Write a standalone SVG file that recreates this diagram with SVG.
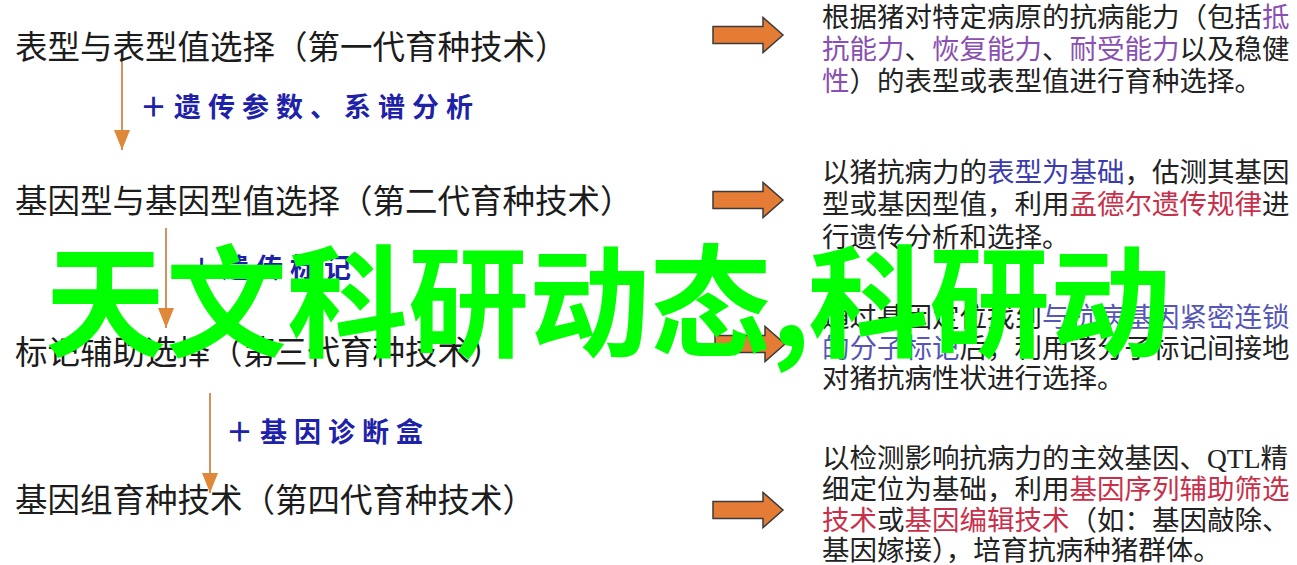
<svg xmlns="http://www.w3.org/2000/svg" width="1297" height="565" viewBox="0 0 1297 565">
<style>
.h{font-family:"Noto Sans CJK SC","Noto Sans",sans-serif;font-size:32.5px;fill:#1c1c1c}
.r{font-family:"Liberation Serif","Noto Sans CJK SC",serif;font-size:27.5px;fill:#222}
.lab{font-family:"Noto Sans CJK SC",sans-serif;font-weight:bold;font-size:27px;fill:#1e22a8;letter-spacing:7px}
.g{font-family:"Noto Sans CJK SC",sans-serif;font-weight:bold;font-size:121px;fill:#00ff00}
.pu{fill:#8a4fb2}
.bl{fill:#3b3bb0}
.bl2{fill:#5656b8}
.rd{fill:#c8304a}
.vl{stroke:#d4915c;stroke-width:2;fill:none;marker-end:url(#ah)}
.ba{fill:#e57c35;stroke:#3b3b3b;stroke-width:1.5;stroke-linejoin:miter}
</style>
<defs>
<marker id="ah" viewBox="0 0 20 16" refX="20" refY="8" markerWidth="20" markerHeight="16" markerUnits="userSpaceOnUse" orient="auto">
<path d="M0,0 L20,8 L0,16 Z" fill="#e0883a"/>
</marker>
<path id="blk" d="M0,-8.5 H50 V-17.5 L70,0 L50,17.5 V8.5 H0 Z"/>
</defs>
<rect width="1297" height="565" fill="#ffffff"/>

<g id="connectors">
<line class="vl" x1="122" y1="57" x2="122" y2="150"/>
<text class="lab" x="140" y="117">＋遗传参数、系谱分析</text>
<line class="vl" x1="166" y1="228" x2="166" y2="328"/>
<text class="lab" x="188" y="278">＋遗传标记</text>
<line class="vl" x1="210" y1="393" x2="210" y2="493"/>
<text class="lab" x="226" y="442">＋基因诊断盒</text>
<use href="#blk" class="ba" transform="translate(713,35)"/>
<use href="#blk" class="ba" transform="translate(713,200)"/>
<use href="#blk" class="ba" transform="translate(715,344)"/>
<use href="#blk" class="ba" transform="translate(713,510)"/>
</g>

<g id="gen1"><text class="h" x="15" y="59">表型与表型值选择（第一代育种技术）</text></g>
<g id="gen2"><text class="h" x="15" y="213">基因型与基因型值选择（第二代育种技术）</text></g>
<g id="gen3"><text class="h" x="15" y="364">标记辅助选择（第三代育种技术）</text></g>
<g id="gen4"><text class="h" x="15" y="512">基因组育种技术（第四代育种技术）</text></g>

<g id="desc1">
<text class="r" x="822" y="27">根据猪对特定病原的抗病能力（包括<tspan class="pu">抵</tspan></text>
<text class="r" x="822" y="59"><tspan class="pu">抗能力</tspan>、<tspan class="pu">恢复能力</tspan>、<tspan class="pu">耐受能力</tspan>以及稳健</text>
<text class="r" x="822" y="91"><tspan class="pu">性</tspan>）的表型或表型值进行育种选择。</text>
</g>
<g id="desc2">
<text class="r" x="822" y="182">以猪抗病力的<tspan class="bl">表型为基础</tspan>，估测其基因</text>
<text class="r" x="822" y="214">型或基因型值，利用<tspan class="rd">孟德尔遗传规律</tspan>进</text>
<text class="r" x="822" y="247">行遗传分析和选择。</text>
</g>
<g id="desc3">
<text class="r" x="822" y="327">通过基因定位找到<tspan class="bl2">与抗病基因紧密连锁</tspan></text>
<text class="r" x="822" y="358"><tspan class="bl2">的分子标记</tspan>后，利用该分子标记间接地</text>
<text class="r" x="822" y="388">对猪抗病性状进行选择。</text>
</g>
<g id="desc4">
<text class="r" x="822" y="468">以检测影响抗病力的主效基因、QTL精</text>
<text class="r" x="822" y="499">细定位为基础，利用<tspan class="rd">基因序列辅助筛选</tspan></text>
<text class="r" x="822" y="530"><tspan class="rd">技术</tspan>或<tspan class="rd">基因编辑技术</tspan>（如：基因敲除、</text>
<text class="r" x="822" y="560">基因嫁接），培育抗病种猪群体。</text>
</g>

<g id="overlay">
<text class="g" x="45" y="347">天文科研动态,<tspan x="808">科研动</tspan></text>
</g>
</svg>
